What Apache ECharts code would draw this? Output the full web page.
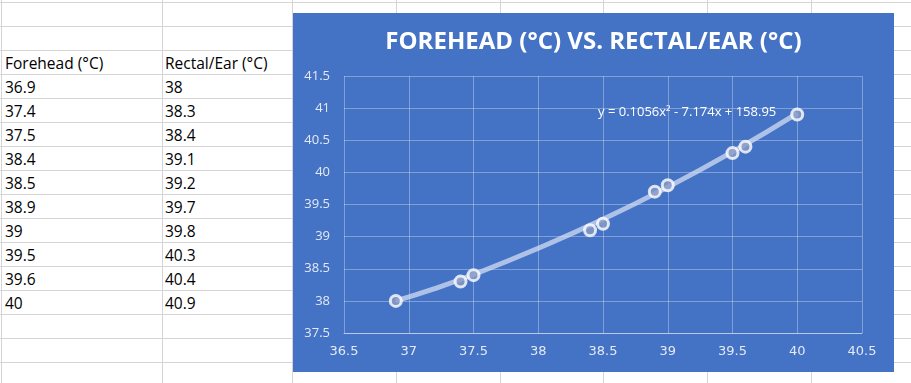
<!DOCTYPE html>
<html>
<head>
<meta charset="utf-8">
<script src="https://cdn.jsdelivr.net/npm/echarts@6/dist/echarts.min.js"></script>
<style>
  html, body { margin: 0; padding: 0; width: 911px; height: 383px; overflow: hidden; background: #fff; }
  #sheet { position: absolute; left: 0; top: 0; width: 911px; height: 383px; }
  .hl { position: absolute; left: 0; width: 911px; height: 1px; background: #d4d4d4; }
  .vl { position: absolute; top: 0; width: 1px; height: 383px; background: #d4d4d4; }
  .cell { position: absolute; font-family: "Open Sans", "Liberation Sans", sans-serif; font-size: 15.5px; color: #000; white-space: nowrap; line-height: 18px; }
  #chart { position: absolute; left: 293px; top: 13px; width: 601px; height: 359px; }
</style>
</head>
<body>
<div id="sheet"></div>
<div id="chart"></div>
<script>
// ---- data ----
const headers = ["Forehead (°C)", "Rectal/Ear (°C)"];
const forehead = [36.9, 37.4, 37.5, 38.4, 38.5, 38.9, 39, 39.5, 39.6, 40];
const rectalEar = [38, 38.3, 38.4, 39.1, 39.2, 39.7, 39.8, 40.3, 40.4, 40.9];
// trendline (Excel polynomial, order 2) positions
const trendX = [36.9, 37.2, 37.5, 38, 38.5, 39, 39.5, 40];
const trendY = [38.0, 38.19, 38.41, 38.82, 39.27, 39.77, 40.32, 40.92];
const equationLabel = "y = 0.1056x² - 7.174x + 158.95";
const chartTitle = "FOREHEAD (°C) VS. RECTAL/EAR (°C)";
const xTicks = [36.5, 37, 37.5, 38, 38.5, 39, 39.5, 40, 40.5];
const yTicks = [37.5, 38, 38.5, 39, 39.5, 40, 40.5, 41, 41.5];

// ---- spreadsheet background ----
const sheet = document.getElementById('sheet');
for (let y = 2; y < 383; y += 24) {
  const d = document.createElement('div'); d.className = 'hl'; d.style.top = y + 'px'; sheet.appendChild(d);
}
[1, 162, 292, 396, 500, 603, 707, 811].forEach(x => {
  const d = document.createElement('div'); d.className = 'vl'; d.style.left = x + 'px'; sheet.appendChild(d);
});
function addCell(text, col, row) {
  const d = document.createElement('div');
  d.className = 'cell';
  d.textContent = text;
  d.style.left = (col === 0 ? 5 : 165) + 'px';
  d.style.top = (2 + 24 * row + 4) + 'px';
  sheet.appendChild(d);
}
addCell(headers[0], 0, 2);
addCell(headers[1], 1, 2);
forehead.forEach((v, i) => addCell(String(v), 0, 3 + i));
rectalEar.forEach((v, i) => addCell(String(v), 1, 3 + i));

// ---- chart ----
const chart = echarts.init(document.getElementById('chart'), null, { renderer: 'canvas' });
const labelColor = '#e4eaf6';
const gridColor = 'rgba(255,255,255,0.32)';
chart.setOption({
  backgroundColor: '#4472C4',
  animation: false,
  title: {
    text: chartTitle,
    left: 'center',
    top: 12,
    textStyle: { color: '#ffffff', fontFamily: 'Open Sans', fontWeight: 'bold', fontSize: 24 }
  },
  grid: { left: 51, right: 32, top: 63, bottom: 39 },
  xAxis: {
    type: 'value', min: xTicks[0], max: xTicks[xTicks.length - 1], interval: 0.5,
    axisLine: { show: true, lineStyle: { color: 'rgba(255,255,255,0.45)', width: 1 } },
    axisTick: { show: false },
    axisLabel: { color: labelColor, fontFamily: 'DejaVu Sans', fontSize: 13, margin: 12 },
    splitLine: { show: true, lineStyle: { color: gridColor, width: 1 } }
  },
  yAxis: {
    type: 'value', min: yTicks[0], max: yTicks[yTicks.length - 1], interval: 0.5,
    axisLine: { show: false },
    axisTick: { show: false },
    axisLabel: { color: labelColor, fontFamily: 'Open Sans', fontSize: 13, margin: 14 },
    splitLine: { show: true, lineStyle: { color: gridColor, width: 1 } }
  },
  graphic: [{
    type: 'text', left: 305, top: 93,
    style: { text: equationLabel, fill: '#ffffff', font: '13px "Open Sans", sans-serif' }
  }],
  series: [
    {
      type: 'line', name: 'trend',
      data: trendX.map((x, i) => [x, trendY[i]]),
      smooth: true, showSymbol: false,
      lineStyle: { color: 'rgba(215,225,245,0.72)', width: 5 },
      z: 2
    },
    {
      type: 'scatter', name: 'data',
      data: forehead.map((x, i) => [x, rectalEar[i]]),
      symbol: 'circle', symbolSize: 11,
      itemStyle: { color: '#8a9bc6', borderColor: '#ffffff', borderWidth: 3 },
      z: 3
    }
  ]
});
</script>
</body>
</html>
